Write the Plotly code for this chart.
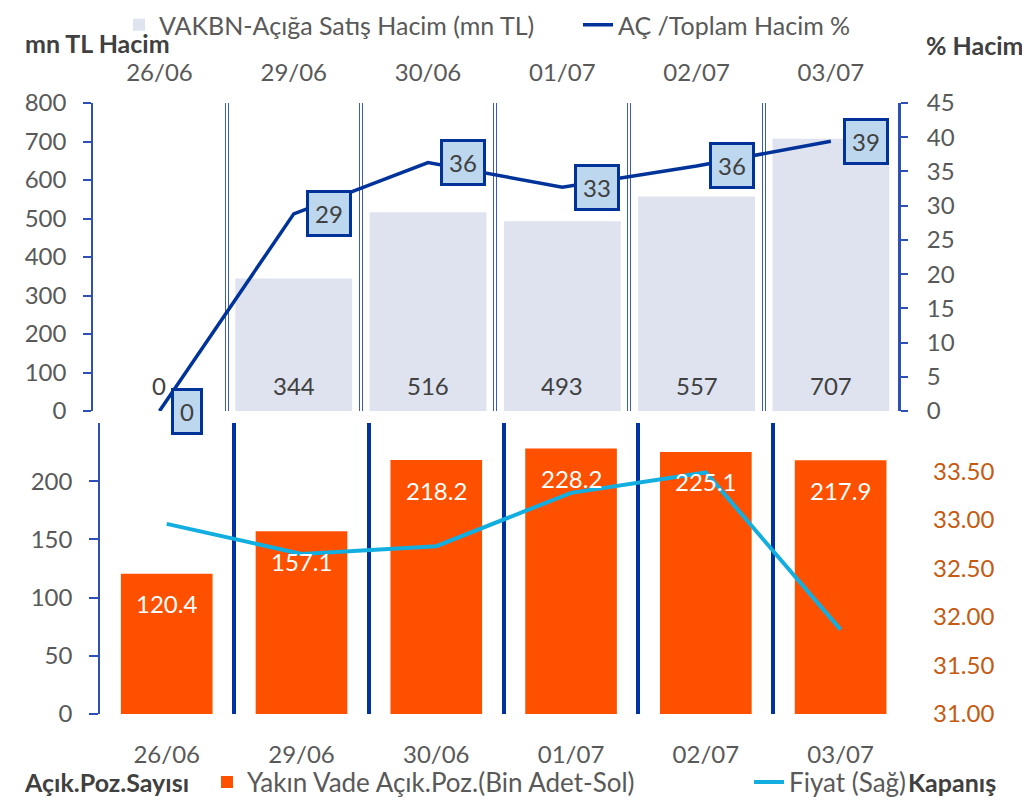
import plotly.graph_objects as go

# ---------------- data ----------------
dates = ["26/06", "29/06", "30/06", "01/07", "02/07", "03/07"]
short_volume = [0, 344, 516, 493, 557, 707]            # mn TL (left, top)
short_ratio = [0, 28.8, 36.3, 32.7, 35.8, 39.4]        # % (right, top)
open_positions = [120.4, 157.1, 218.2, 228.2, 225.1, 217.9]  # bin adet (left, bottom)
close_price = [32.96, 32.65, 32.73, 33.28, 33.49, 31.87]     # TL (right, bottom)

top_left_ticks = [0, 100, 200, 300, 400, 500, 600, 700, 800]
top_right_ticks = [0, 5, 10, 15, 20, 25, 30, 35, 40, 45]
bot_left_ticks = [0, 50, 100, 150, 200]
bot_right_ticks = [31.0, 31.5, 32.0, 32.5, 33.0, 33.5]

name_bar_top = "VAKBN-Açığa Satış Hacim (mn TL)"
name_line_top = "AÇ /Toplam Hacim %"
name_bar_bot = "Yakın Vade Açık.Poz.(Bin Adet-Sol)"
name_line_bot = "Fiyat (Sağ)"

# ---------------- style ----------------
W, H = 1030, 800
OFF = 8  # page body margin
FONT = "Lato, 'Open Sans', sans-serif"
GREY = "#595959"
DARK = "#404040"
AXBLUE = "#2E50B5"
NAVY = "#003399"
FS = 24


def px(x):
    return (x - OFF) / W


def py(y):
    return 1 - (y - OFF) / H


fig = go.Figure()

fig.add_trace(go.Bar(
    x=dates, y=short_volume, xaxis="x", yaxis="y", width=0.87,
    marker=dict(color="#DEE3EF", line=dict(width=0)),
    name=name_bar_top, legend="legend"))
fig.add_trace(go.Scatter(
    x=dates, y=short_ratio, xaxis="x", yaxis="y2", mode="lines",
    line=dict(color=NAVY, width=3.5), name=name_line_top, legend="legend2"))
# helper trace carrying the overlay axis used for the double separators
fig.add_trace(go.Scatter(
    x=dates, y=short_volume, xaxis="x3", yaxis="y", mode="markers",
    marker=dict(opacity=0), showlegend=False, hoverinfo="skip"))
fig.add_trace(go.Bar(
    x=dates, y=open_positions, xaxis="x2", yaxis="y3", width=0.68,
    marker=dict(color="#FF5000"), name=name_bar_bot, legend="legend3"))
fig.add_trace(go.Scatter(
    x=dates, y=close_price, xaxis="x2", yaxis="y4", mode="lines",
    line=dict(color="#12AEE0", width=4), name=name_line_bot, legend="legend4"))

tickfont = dict(family=FONT, size=FS, color=GREY)
cat_common = dict(type="category", categoryorder="array", categoryarray=dates,
                  tickson="boundaries",
                  ticks="", zeroline=False, automargin=False, fixedrange=True)
rng = [-0.495, len(dates) - 0.5]

ann = []
for d, v in zip(dates, short_volume):
    ann.append(dict(x=d, y=0, xref="x", yref="y", text=str(v), showarrow=False,
                    yshift=26, font=dict(family=FONT, size=FS, color=DARK)))
for d, v in zip(dates, short_ratio):
    ann.append(dict(x=d, y=v, xref="x", yref="y2", text=f"{v:.0f}", showarrow=False,
                    xanchor="left", xshift=12, bgcolor="#BDD7EE", bordercolor=NAVY,
                    borderwidth=3, borderpad=6,
                    font=dict(family=FONT, size=FS, color=DARK)))
for d, v in zip(dates, open_positions):
    ann.append(dict(x=d, y=v, xref="x2", yref="y3", text=f"{v:.1f}", showarrow=False,
                    yshift=-30, font=dict(family=FONT, size=FS, color="white")))

bold = dict(family=FONT, size=25, color=DARK)
ann += [
    dict(x=px(23), y=py(43), xref="paper", yref="paper", text="<b>mn TL Hacim</b>",
         xanchor="left", yanchor="middle", showarrow=False, font=bold),
    dict(x=px(1026), y=py(45), xref="paper", yref="paper", text="<b>% Hacim</b>",
         xanchor="right", yanchor="middle", showarrow=False, font=bold),
    dict(x=px(22), y=py(782), xref="paper", yref="paper", text="<b>Açık.Poz.Sayısı</b>",
         xanchor="left", yanchor="middle", showarrow=False, font=bold),
    dict(x=px(998), y=py(782), xref="paper", yref="paper", text="<b>Kapanış</b>",
         xanchor="right", yanchor="middle", showarrow=False, font=bold),
]

legfont_top = dict(family=FONT, size=25, color=GREY)
legfont_bot = dict(family=FONT, size=26, color=GREY)


def leg(x_text_start, y_center, font):
    return dict(orientation="h", x=px(x_text_start - 41), xanchor="left",
                y=py(y_center), yanchor="middle", font=font,
                bgcolor="rgba(0,0,0,0)", borderwidth=0)


fig.update_layout(
    width=W, height=H, autosize=False, template="none",
    margin=dict(l=0, r=0, t=0, b=0, autoexpand=False),
    paper_bgcolor="white", plot_bgcolor="rgba(0,0,0,0)",
    font=dict(family=FONT, size=FS, color=GREY),
    barmode="overlay",
    xaxis=dict(domain=[px(93), px(898)], anchor="y", side="top", range=rng,
               showgrid=True, gridcolor="#3A5BC7", gridwidth=4,
               tickfont=tickfont, ticklabelstandoff=16, **cat_common),
    xaxis3=dict(domain=[px(93), px(898)], anchor="y", side="top", overlaying="x",
                range=rng, showgrid=True, gridcolor="white", gridwidth=1.5,
                showticklabels=False, **cat_common),
    yaxis=dict(domain=[py(411), py(103)], anchor="x", range=[0, 800],
               tickmode="array", tickvals=top_left_ticks,
               ticks="outside", ticklen=8, tickcolor=AXBLUE, tickwidth=1.5,
               showline=True, linecolor=AXBLUE, linewidth=1.5,
               showgrid=False, zeroline=False, automargin=False,
               tickfont=tickfont, ticklabelstandoff=12, fixedrange=True),
    yaxis2=dict(overlaying="y", side="right", anchor="x", range=[0, 45],
                tickmode="array", tickvals=top_right_ticks,
                ticks="outside", ticklen=7, tickcolor=AXBLUE, tickwidth=1.5,
                showline=True, linecolor=AXBLUE, linewidth=3,
                showgrid=False, zeroline=False, automargin=False,
                tickfont=tickfont, ticklabelstandoff=14, fixedrange=True),
    xaxis2=dict(domain=[px(100), px(908)], anchor="y3", side="bottom", range=rng,
                showgrid=True, gridcolor="#0033A0", gridwidth=4,
                tickfont=tickfont, ticklabelstandoff=24, **cat_common),
    yaxis3=dict(domain=[py(714), py(423)], anchor="x2", range=[0, 250],
                tickmode="array", tickvals=bot_left_ticks,
                ticks="outside", ticklen=9, tickcolor=AXBLUE, tickwidth=1.5,
                showline=True, linecolor=AXBLUE, linewidth=1.5,
                showgrid=False, zeroline=False, automargin=False,
                tickfont=tickfont, ticklabelstandoff=12, fixedrange=True),
    yaxis4=dict(overlaying="y3", side="right", anchor="x2", range=[31, 34],
                tickmode="array", tickvals=bot_right_ticks,
                ticktext=[f"{t:.2f}" for t in bot_right_ticks],
                ticks="", showline=False, showgrid=False, zeroline=False,
                automargin=False,
                tickfont=dict(family=FONT, size=FS, color="#C55A11"),
                ticklabelstandoff=24, fixedrange=True),
    legend=leg(160, 25, legfont_top),
    legend2=leg(619, 25, legfont_top),
    legend3=leg(248, 782, legfont_bot),
    legend4=leg(790, 782, legfont_bot),
    annotations=ann,
    showlegend=True,
)

fig.write_html("out.html")
